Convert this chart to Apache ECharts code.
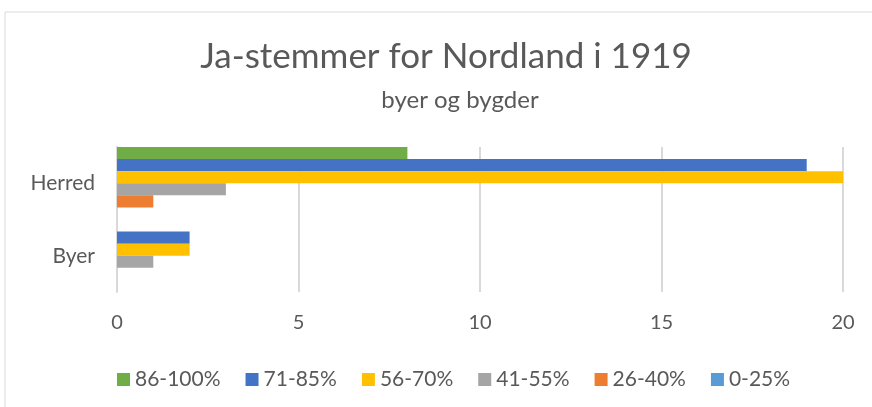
<!DOCTYPE html>
<html>
<head>
<meta charset="utf-8">
<script src="https://cdn.jsdelivr.net/npm/echarts@6/dist/echarts.min.js"></script>
<style>
  html, body { margin: 0; padding: 0; background: #fff; }
  #chart { width: 872px; height: 407px; }
</style>
</head>
<body>
<div id="chart"></div>
<script>
// kategorier (nederst først i echarts)
const categories = ['Byer', 'Herred'];

// intervaller i legend-rekkefølge
const bands = ['86-100%', '71-85%', '56-70%', '41-55%', '26-40%', '0-25%'];
const colors = ['#70AD47', '#4472C4', '#FFC000', '#A5A5A5', '#ED7D31', '#5B9BD5'];

// antall kommuner per intervall: [Byer, Herred]
const values = {
    '86-100%': [0, 8],
    '71-85%': [2, 19],
    '56-70%': [2, 20],
    '41-55%': [1, 3],
    '26-40%': [0, 1],
    '0-25%': [0, 0]
};

const xTicks = [0, 5, 10, 15, 20];

const chart = echarts.init(document.getElementById('chart'));

const series = bands.map((name, i) => ({
    name: name,
    type: 'bar',
    data: values[name],
    barGap: '0%',
    barCategoryGap: '0%',
    itemStyle: { color: colors[i] }
}));

const option = {
    animation: false,
    textStyle: { fontFamily: 'Lato, "Open Sans", sans-serif', color: '#595959' },
    graphic: [{
        type: 'rect',
        shape: { x: 5, y: 12, width: 900, height: 420 },
        style: { fill: 'none', stroke: '#D9D9D9', lineWidth: 1 },
        silent: true
    }, {
        // tittel og undertittel
        type: 'text',
        x: 446,
        y: 57,
        style: {
            text: 'Ja-stemmer for Nordland i 1919',
            font: '35px Lato',
            fill: '#595959',
            align: 'center',
            verticalAlign: 'middle'
        }
    }, {
        type: 'text',
        x: 460,
        y: 100,
        style: {
            text: 'byer og bygder',
            font: '24px Lato',
            fill: '#595959',
            align: 'center',
            verticalAlign: 'middle'
        }
    }],
    legend: {
        data: bands,
        top: 364,
        left: 112,
        icon: 'rect',
        itemWidth: 13,
        itemHeight: 13,
        itemGap: 25,
        textStyle: { fontSize: 21, color: '#595959' }
    },
    grid: { left: 117, right: 29, top: 147, bottom: 115 },
    xAxis: {
        type: 'value',
        min: 0,
        max: 20,
        interval: 5,
        axisLine: { show: false },
        axisTick: { show: false },
        axisLabel: { fontSize: 20, color: '#595959', margin: 21 },
        splitLine: { lineStyle: { color: '#D9D9D9', width: 2 } }
    },
    yAxis: {
        type: 'category',
        data: categories,
        axisLine: { show: true, lineStyle: { color: '#D9D9D9', width: 2 } },
        axisTick: { show: false },
        axisLabel: { fontSize: 21, color: '#595959', margin: 22 }
    },
    series: series
};

chart.setOption(option);
</script>
</body>
</html>
